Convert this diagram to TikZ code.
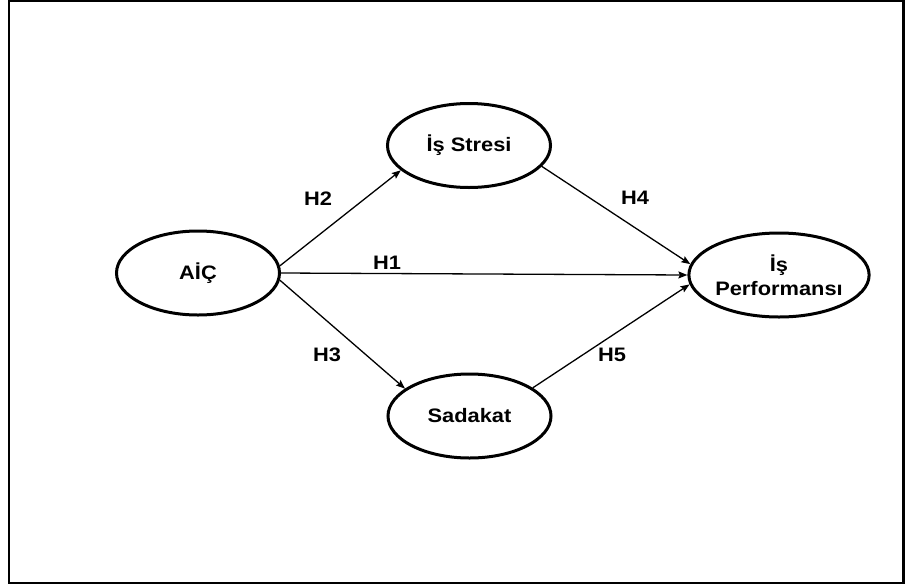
\documentclass[tikz,border=0pt]{standalone}
\usepackage{fontspec}
\setmainfont{Liberation Sans}
\usetikzlibrary{shapes.geometric,arrows.meta}
\newcommand{\wtxt}[1]{\scalebox{1.12}[1]{#1}}
\tikzset{
  frame/.style={draw=black,line width=2.3pt},
  construct/.style={ellipse,draw=black,line width=3pt,minimum width=163pt,minimum height=84pt,inner sep=0pt,align=center,font=\fontsize{19.5}{24}\selectfont\bfseries},
  link/.style={draw=black,line width=1.3pt,-{Stealth[length=9pt,width=7pt,inset=1.5pt]}},
  hlabel/.style={font=\fontsize{19.5}{22}\selectfont\bfseries,inner sep=0pt}
}
\begin{document}
\begin{tikzpicture}[x=1pt,y=-1pt]
\useasboundingbox (0,0) rectangle (905,587);
\draw[frame] (9.2,1.2) rectangle (903.5,583);
\node[construct] (aic) at (198,273) {\wtxt{AİÇ}};
\node[construct] (stres) at (469,145.5) {\wtxt{İş Stresi}};
\node[construct] (sad) at (469.5,416) {\wtxt{Sadakat}};
\node[construct] (perf) at (779,275) {\wtxt{İş}\\\wtxt{Performansı}};
\draw[link] (aic.5) -- (stres.200);
\draw[link] (aic.east) -- (perf.west);
\draw[link] (aic.-5) -- (sad.157);
\draw[link] (stres.-16) -- (perf.173);
\draw[link] (sad.24) -- (perf.186);
\node[hlabel] (h2) at (318,199) {\wtxt{H2}};
\node[hlabel] (h1) at (387,263) {\wtxt{H1}};
\node[hlabel] (h3) at (327,355) {\wtxt{H3}};
\node[hlabel] (h4) at (635,198) {\wtxt{H4}};
\node[hlabel] (h5) at (612,355) {\wtxt{H5}};
\end{tikzpicture}
\end{document}
